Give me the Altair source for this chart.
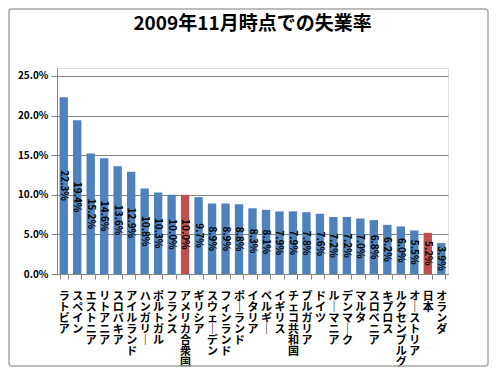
import altair as alt
import pandas as pd

countries = ["ラトビア", "スペイン", "エストニア", "リトアニア", "スロバキア", "アイルランド",
             "ハンガリー", "ポルトガル", "フランス", "アメリカ合衆国", "ギリシア", "スウェーデン",
             "フィンランド", "ポーランド", "イタリア", "ベルギー", "イギリス", "チェコ共和国",
             "ブルガリア", "ドイツ", "ルーマニア", "デンマーク", "マルタ", "スロベニア",
             "キプロス", "ルクセンブルグ", "オーストリア", "日本", "オランダ"]
rates = [22.3, 19.4, 15.2, 14.6, 13.6, 12.9, 10.8, 10.3, 10.0, 10.0, 9.7, 8.9,
         8.9, 8.8, 8.3, 8.1, 7.9, 7.9, 7.8, 7.6, 7.2, 7.2, 7.0, 6.8,
         6.2, 6.0, 5.5, 5.2, 3.9]
highlight = ["アメリカ合衆国", "日本"]
y_ticks = [0, 0.05, 0.10, 0.15, 0.20, 0.25]
title_text = ["2009年11月時点での失業率"]

df = pd.DataFrame({"country": countries, "rate": rates})
df["group"] = ["hl" if c in highlight else "base" for c in countries]

FONT = "Noto Sans CJK JP"
GRAY = "#868686"

base = alt.Chart(df).transform_calculate(
    v="datum.rate / 100", half="datum.rate / 200"
)

x_enc = alt.X(
    "country:N",
    sort=countries,
    scale=alt.Scale(paddingInner=0.38, paddingOuter=0.19),
    axis=alt.Axis(
        title=None,
        labelAngle=0,
        labelExpr="split(replace(datum.label, 'ー', '｜'), '')",
        labelFont=FONT,
        labelFontSize=11,
        labelFontWeight="bold",
        labelColor="black",
        labelLineHeight=11,
        labelBaseline="top",
        labelAlign="center",
        labelPadding=11,
        labelOverlap=False,
        labelLimit=1000,
        tickBand="extent",
        tickSize=5,
        tickColor=GRAY,
        domainColor=GRAY,
        grid=False,
    ),
)

bars = base.mark_bar().encode(
    x=x_enc,
    y=alt.Y(
        "v:Q",
        scale=alt.Scale(domain=[0, 0.25]),
        axis=alt.Axis(
            title=None,
            values=y_ticks,
            format=".1%",
            labelFont=FONT,
            labelFontSize=10,
            labelFontWeight="bold",
            labelColor="black",
            labelPadding=3,
            tickSize=6,
            tickColor=GRAY,
            domainColor=GRAY,
            gridColor=GRAY,
        ),
    ),
    color=alt.Color(
        "group:N",
        scale=alt.Scale(domain=["base", "hl"], range=["#4F81BD", "#C0504D"]),
        legend=None,
    ),
)

labels = base.mark_text(
    angle=90, font=FONT, fontSize=10, fontWeight="bold", color="black",
    align="center", baseline="middle",
).encode(
    x=alt.X("country:N", sort=countries),
    y=alt.Y("half:Q"),
    text=alt.Text("v:Q", format=".1%"),
)

frame = alt.Chart(pd.DataFrame({"a": [0]})).mark_rect(
    fillOpacity=0, stroke="#A6A6A6", strokeWidth=1.5, cornerRadius=3
).encode(
    x=alt.value(-48), x2=alt.value(431), y=alt.value(-59), y2=alt.value(298)
)

title = alt.Chart(pd.DataFrame({"t": title_text})).mark_text(
    font=FONT, fontSize=19, fontWeight="bold", color="black",
    align="center", baseline="middle",
).encode(
    text="t:N", x=alt.value(195.5), y=alt.value(-44)
)

chart = alt.layer(frame, bars, labels, title).properties(
    width=391,
    height=206,
    autosize=alt.AutoSizeParams(type="none"),
    padding={"left": 49, "top": 60, "right": 42, "bottom": 94},
).configure_view(strokeWidth=0).configure(background="white")

chart.save("out.html", embed_options={"renderer": "svg", "actions": False})
